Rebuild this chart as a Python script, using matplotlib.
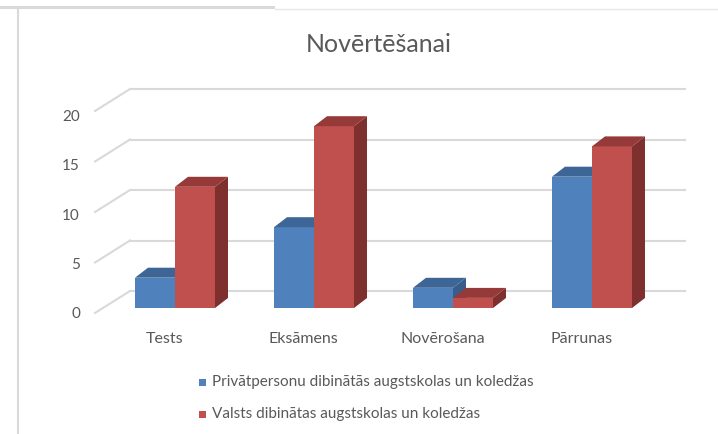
import numpy as np
import matplotlib.pyplot as plt
from matplotlib.patches import Polygon, Rectangle

categories = ["Tests", "Eksāmens", "Novērošana", "Pārrunas"]
private_vals = [3, 8, 2, 13]
state_vals = [12, 18, 1, 16]
series_names = ["Privātpersonu dibinātās augstskolas un koledžas",
                "Valsts dibinātas augstskolas un koledžas"]
yticks = [0, 5, 10, 15, 20]
title = "Novērtēšanai"

plt.rcParams['font.family'] = ['Lato', 'DejaVu Sans']

# colours: front, top, side
blue = ("#4f81bd", "#3d6595", "#385d8a")
red = ("#c0504d", "#953a38", "#7d302e")
text_col = "#595959"
grid_col = "#d9d9d9"

W, H = 718, 434
fig = plt.figure(figsize=(W / 100, H / 100), dpi=100)
ax = fig.add_axes([0, 0, 1, 1])
# data units: x = category index, y = value; category centres 139 px apart
px_x, px_y = 139.0, 10.1
x0, y0 = 175.0, 308.0
ax.set_xlim(-x0 / px_x, (W - x0) / px_x)
ax.set_ylim((y0 - H) / px_y, y0 / px_y)
ax.axis("off")


def px2d(px, py):
    return (px - x0) / px_x, (y0 - py) / px_y


# window frame bits
ax.add_patch(Rectangle(px2d(0, 9), 275 / px_x, 3 / px_y, color="#d9d9d9", lw=0))
ax.plot(*zip(px2d(275, 9), px2d(718, 9)), color="#e6e6e6", lw=1)
ax.plot(*zip(px2d(18.5, 9), px2d(18.5, 434)), color="#d9d9d9", lw=1.5)

# back wall gridlines and floor diagonals
back_dx, back_dy = px2d(130, 291)
front_dx, front_dy = px2d(95, 313)
right_x, _ = px2d(685, 0)
lx, ly0 = px2d(80, 313)
for v in yticks:
    ax.plot([back_dx, right_x], [back_dy + v, back_dy + v], color=grid_col, lw=1.5, zorder=1)
    ax.plot([front_dx, back_dx], [front_dy + v, back_dy + v], color=grid_col, lw=1.5, zorder=1)
    ax.text(lx, ly0 + v * 9.9 / px_y, str(v), ha="right", va="center_baseline",
            fontsize=11, color=text_col)

bw = 40 / px_x
ddx, ddy = 13 / px_x, 10 / px_y


def bar3d(x, v, cols):
    front, top, side = cols
    ax.add_patch(Polygon([(x, 0), (x + bw, 0), (x + bw, v), (x, v)],
                         closed=True, fc=front, ec="none", zorder=3))
    ax.add_patch(Polygon([(x, v), (x + bw, v), (x + bw + ddx, v + ddy), (x + ddx, v + ddy)],
                         closed=True, fc=top, ec="none", zorder=3))
    ax.add_patch(Polygon([(x + bw, 0), (x + bw + ddx, ddy), (x + bw + ddx, v + ddy), (x + bw, v)],
                         closed=True, fc=side, ec="none", zorder=2))


idx = np.arange(len(categories))
_, cat_y = px2d(0, 339)
for i in idx:
    bar3d(i - bw, private_vals[i], blue)
    bar3d(i, state_vals[i], red)
    ax.text(i - 0.075, cat_y, categories[i], ha="center", va="center",
            fontsize=11.5, color=text_col)

tx, ty = px2d(379, 44)
ax.text(tx, ty, title, ha="center", va="center", fontsize=18, color=text_col)

# legend
for k, (name, cols) in enumerate(zip(series_names, [blue, red])):
    sx, sy = px2d(199, 386 + 32 * k)
    ax.add_patch(Rectangle((sx, sy), 7 / px_x, 7 / px_y, color=cols[0], lw=0))
    tx, ty = px2d(212, 382 + 32 * k)
    ax.text(tx, ty, name, ha="left", va="center", fontsize=11, color=text_col)

fig.savefig("out.png", dpi=100)
